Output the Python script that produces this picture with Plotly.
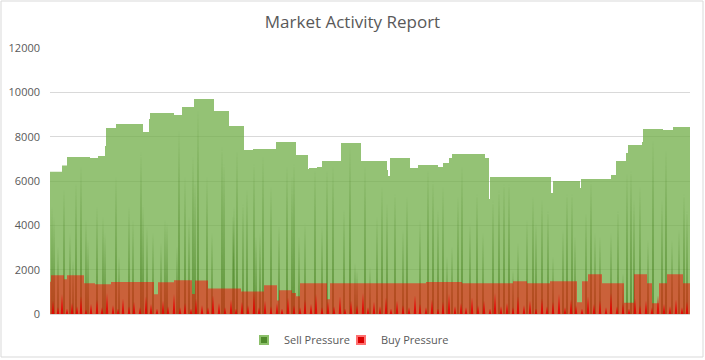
import plotly.graph_objects as go

# ---- data (x = trading-session index) ----
sell_starts = [0, 12, 17, 40, 48, 55, 56, 66, 93, 99, 100, 124, 132, 144, 164, 179, 194, 203, 226, 246,
               258, 259, 267, 272, 291, 311, 337, 338, 340, 360, 368, 388, 393, 399, 402, 435, 439, 440, 501, 503,
               530, 531, 561, 566, 576, 578, 592, 593, 613, 623]
sell_levels = [6420, 6700, 7080, 7040, 7130, 7580, 8390, 8570, 8210, 8800, 9070, 8980, 9340, 9700, 9160, 8480, 7400, 7440, 7760, 7170,
               6540, 6590, 6630, 6900, 7710, 6900, 6500, 6230, 7040, 6590, 6720, 6630, 6810, 7040, 7220, 7040, 5190, 6180, 5460, 6000,
               5680, 6090, 6270, 6900, 7260, 7620, 7760, 8350, 8300, 8440]

buy_starts = [0, 1, 14, 17, 34, 45, 61, 104, 108, 124, 142, 145, 158, 191, 214, 227, 229, 242, 246, 250,
              277, 280, 376, 412, 463, 477, 500, 527, 532, 538, 552, 574, 584, 597, 602, 609, 617, 633]
buy_levels = [1460, 1745, 1565, 1745, 1385, 1340, 1440, 888, 1430, 1520, 900, 1510, 1150, 1020, 1293, 610, 1068, 950, 800, 1384,
              660, 1384, 1440, 1385, 1475, 1385, 1475, 527, 1475, 1790, 1385, 510, 1790, 1385, 482, 1385, 1790, 1385]
last_session = 640

sell_spike_pos = [2, 4, 8, 14, 20, 23, 26, 31, 36, 38, 47, 53, 55, 66, 69, 79, 83, 91, 93, 97,
                  103, 111, 115, 117, 127, 129, 135, 139, 143, 145, 148, 157, 162, 172, 174, 183, 184, 187, 193, 197,
                  204, 206, 210, 213, 221, 229, 237, 242, 244, 249, 255, 265, 272, 277, 283, 294, 300, 305, 307, 315,
                  320, 327, 332, 337, 345, 353, 357, 370, 378, 383, 388, 393, 397, 402, 408, 412, 420, 427, 433, 443,
                  449, 454, 459, 463, 468, 477, 483, 486, 492, 498, 503, 513, 517, 522, 525, 536, 541, 545, 550, 561,
                  568, 573, 577, 581, 584, 590, 598, 603, 612, 616, 622, 629, 634, 637]
sell_spike_val = [4840, 4390, 3040, 5590, 3650, 2440, 5900, 6650, 4240, 3340, 4840, 4390, 3650, 6190, 2580, 4840, 4240, 7320, 4920, 3940,
                  3650, 3200, 4240, 4100, 3040, 8300, 6190, 4390, 7100, 6050, 9200, 6190, 3650, 7550, 6800, 4550, 4840, 7400, 5000, 5590,
                  6800, 3490, 3650, 7100, 5740, 4000, 6650, 6190, 6800, 3490, 4100, 6500, 3940, 6500, 6650, 4690, 7550, 2300, 1990, 6650,
                  2130, 4390, 5740, 5000, 5450, 3790, 5290, 4240, 6500, 6050, 4690, 5740, 2580, 3040, 5290, 6650, 4100, 5450, 3650, 5140,
                  5590, 5900, 5900, 1990, 3200, 4240, 5290, 4100, 5140, 4690, 2580, 3790, 5450, 5450, 3490, 4550, 6050, 3650, 3490, 3650,
                  4690, 1840, 6350, 6500, 5140, 5740, 3340, 7850, 5140, 7400, 3340, 3790, 5450, 4690]

buy_spike_pos = [3, 8, 12, 17, 22, 27, 31, 36, 41, 47, 52, 57, 63, 68, 73, 79, 84, 90, 96, 101,
                 107, 113, 118, 124, 130, 135, 141, 146, 152, 158, 163, 169, 175, 181, 186, 192, 198, 204, 209, 215,
                 221, 227, 232, 238, 244, 250, 255, 261, 266, 272, 278, 284, 290, 295, 301, 307, 313, 318, 324, 330,
                 336, 341, 347, 353, 359, 365, 370, 376, 382, 388, 393, 399, 405, 411, 416, 422, 428, 434, 440, 445,
                 451, 457, 463, 468, 474, 480, 486, 492, 497, 503, 509, 515, 521, 526, 532, 538, 544, 550, 556, 561,
                 567, 573, 579, 585, 590, 596, 602, 608, 614, 620, 626, 632, 637]
buy_spike_val = [600, 300, 900, 250, 500, 350, 800, 200, 450, 650, 300, 950, 400, 250, 700, 350, 550, 300, 800, 450,
                 250, 600, 350, 900, 300, 500, 250, 700, 400, 300, 850, 500, 300, 650, 250, 550, 400, 950, 300, 600,
                 350, 500, 250, 750, 400, 300, 650, 450, 900, 300, 550, 350, 800, 250, 600, 400, 950, 300, 550, 350,
                 750, 250, 600, 400, 300, 850, 450, 300, 650, 250, 550, 900, 350, 500, 300, 750, 400, 600, 250, 950,
                 350, 500, 300, 800, 400, 600, 250, 700, 350, 550, 900, 300, 650, 400, 250, 800, 450, 600, 300, 950,
                 350, 500, 250, 700, 400, 600, 300, 850, 450, 350, 650, 300, 550]

y_ticks = [0, 2000, 4000, 6000, 8000, 10000, 12000]


def spike_path(pos, val, half):
    xs, ys = [0], [0]
    for p, v in zip(pos, val):
        xs += [p - half, p, p + half]
        ys += [0, v, 0]
    xs.append(last_session)
    ys.append(0)
    return xs, ys


fig = go.Figure()

# Sell pressure step area
fig.add_trace(go.Scatter(
    x=sell_starts + [last_session], y=sell_levels + [sell_levels[-1]],
    mode="lines", line=dict(width=0, shape="hv"), fill="tozeroy",
    fillcolor="rgba(112,173,71,0.75)", showlegend=False, hoverinfo="skip"))
sx, sy = spike_path(sell_spike_pos, sell_spike_val, 1.0)
fig.add_trace(go.Scatter(
    x=sx, y=sy, mode="lines", line=dict(width=0), fill="tozeroy",
    fillcolor="rgba(60,120,20,0.6)", showlegend=False, hoverinfo="skip"))

# Buy pressure step area
fig.add_trace(go.Scatter(
    x=buy_starts + [last_session], y=buy_levels + [buy_levels[-1]],
    mode="lines", line=dict(width=0, shape="hv"), fill="tozeroy",
    fillcolor="rgba(255,0,0,0.5)", showlegend=False, hoverinfo="skip"))
bx, by = spike_path(buy_spike_pos, buy_spike_val, 1.3)
fig.add_trace(go.Scatter(
    x=bx, y=by, mode="lines", line=dict(width=0), fill="tozeroy",
    fillcolor="rgba(230,0,0,0.85)", showlegend=False, hoverinfo="skip"))

# legend entries (two legends so each entry can be placed like the original)
fig.add_trace(go.Scatter(x=[None], y=[None], mode="markers", name="Sell Pressure", legend="legend",
                         marker=dict(symbol="square", size=8, color="#4f8a2c",
                                     line=dict(color="#8cc06a", width=2))))
fig.add_trace(go.Scatter(x=[None], y=[None], mode="markers", name="Buy Pressure", legend="legend2",
                         marker=dict(symbol="square", size=8, color="#d90000",
                                     line=dict(color="#ff7070", width=2))))

legend_style = dict(orientation="h", xanchor="left", y=-0.098, yanchor="middle",
                    font=dict(size=11, color="#595959"), itemwidth=30, bgcolor="rgba(0,0,0,0)")

fig.update_layout(
    width=705, height=360,
    margin=dict(l=50, r=15, t=48, b=46, autoexpand=False),
    paper_bgcolor="white", plot_bgcolor="white",
    font=dict(family="Open Sans, sans-serif", color="#595959", size=11),
    title=dict(text="Market Activity Report", x=0.5, xref="container", xanchor="center",
               y=1 - 22 / 360, yanchor="middle", font=dict(size=17, color="#595959")),
    xaxis=dict(range=[0, last_session], showgrid=False, zeroline=False, showticklabels=False,
               showline=True, linecolor="#d9d9d9", fixedrange=True),
    yaxis=dict(range=[0, 12000], tickvals=y_ticks, ticktext=[str(v) for v in y_ticks],
               showgrid=True, gridcolor="#d9d9d9", zeroline=False, showline=False,
               ticklabelstandoff=9,
               tickfont=dict(size=11, color="#595959"), fixedrange=True),
    legend=dict(x=(244 - 50) / 640, **legend_style),
    legend2=dict(x=(341 - 50) / 640, **legend_style),
    shapes=[dict(type="rect", xref="paper", yref="paper",
                 x0=(1 - 50) / 640, x1=(703 - 50) / 640, y0=(314 - 357) / 266, y1=(314 - 1) / 266,
                 line=dict(color="#d9d9d9", width=1), layer="below")],
)

fig.write_html("out.html", config={"displayModeBar": False},
               post_script="document.body.style.margin='0';document.body.style.overflow='hidden';")
